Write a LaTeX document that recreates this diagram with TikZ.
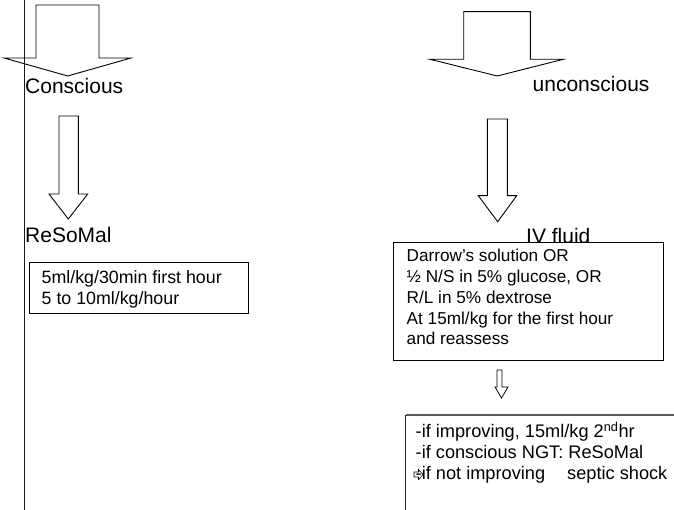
\documentclass[tikz,border=0pt]{standalone}
\usepackage{fontspec}
\setmainfont{Liberation Sans}
\begin{document}
\begin{tikzpicture}[x=1pt,y=-1pt,
  outline/.style={draw=black, line width=0.9pt, line join=miter},
  heading/.style={anchor=base west, inner sep=0pt, font=\fontsize{21}{25}\selectfont},
  panel/.style={draw=black, line width=1.1pt, fill=white, anchor=north west, inner sep=0pt},
  % multi-line nodes sit on the baseline of their last line
  paneltext/.style={anchor=base west, inner sep=0pt, align=left, font=\fontsize{17.2}{20.7}\selectfont},
  notetext/.style={anchor=base west, inner sep=0pt, align=left, font=\fontsize{18.2}{21}\selectfont},
]
\useasboundingbox (0,0) rectangle (674,510);

% block arrows: conscious / unconscious branches
\draw[outline] (36,5) -- (99,5) -- (99,58) -- (131,58) -- (67.7,76) -- (4,58) -- (36,58) -- cycle;
\draw[outline] (463.7,11.7) -- (530.3,11.7) -- (530.3,59.3) -- (563.3,59.3) -- (497.3,76) -- (430,59.3) -- (463.7,59.3) -- cycle;
\draw[outline] (59,116) -- (78.3,116) -- (78.3,194) -- (87.7,194) -- (68.3,219) -- (49,194) -- (59,194) -- cycle;
\draw[outline] (487.3,119) -- (507.3,119) -- (507.3,195.7) -- (516.7,195.7) -- (497.7,221.7) -- (478.3,195.7) -- (487.3,195.7) -- cycle;

% separator line
\coordinate (sepTop) at (24.5,0);
\coordinate (sepBot) at (24.5,510);
\draw[line width=1.3pt, black!90] (sepTop) -- (sepBot);

% headings
\node[heading] (conscious) at (25,94) {Conscious};
\node[heading] (unconscious) at (532.5,92) {unconscious};
\node[heading] (resomal) at (25,243) {ReSoMal};
\node[heading] (ivfluid) at (526,244) {IV fluid};

% oral rehydration box
\node[panel, minimum width=218.4, minimum height=51] (oral) at (29.3,262) {};
\node[paneltext, font=\fontsize{17.8}{21.4}\selectfont] (oraltext) at (41.5,304.7) {5ml/kg/30min first hour\\5 to 10ml/kg/hour};

% intravenous box
\node[panel, minimum width=270, minimum height=118] (iv) at (393,242) {};
\node[paneltext] (ivtext) at (406.5,344.8) {Darrow’s solution OR\\½ N/S in 5\% glucose, OR\\R/L in 5\% dextrose\\At 15ml/kg for the first hour\\and reassess};

% small block arrow down to the reassessment box
\draw[outline, line width=0.8pt] (497,370) -- (502,370) -- (502,387) -- (508,387) -- (501.5,398) -- (495,387) -- (497,387) -- cycle;

% reassessment box (runs past the right edge)
\node[anchor=north west, inner sep=0pt, minimum width=268.5, minimum height=94.5] (reassess) at (405.5,415) {};
\draw[black!65, line width=1.6pt] (reassess.north west) -- (reassess.north east);
\draw[black!85, line width=0.9pt] (reassess.north west) -- (reassess.south west);
\draw[black!15, line width=0.8pt] (reassess.south west) -- (reassess.south east);
\node[notetext] (reassesstext) at (415.5,479.5) {-if improving, 15ml/kg 2\textsuperscript{nd}hr\\-if conscious NGT: ReSoMal\\-if not improving\hspace{17pt} septic shock};

% small pointer glyph over the last item
\draw[line width=0.6pt, line join=miter] (414,472) -- (418.5,472) -- (418.5,469.5) -- (423,474.5) -- (418.5,479.5) -- (418.5,477) -- (414,477) -- cycle;
\end{tikzpicture}
\end{document}
